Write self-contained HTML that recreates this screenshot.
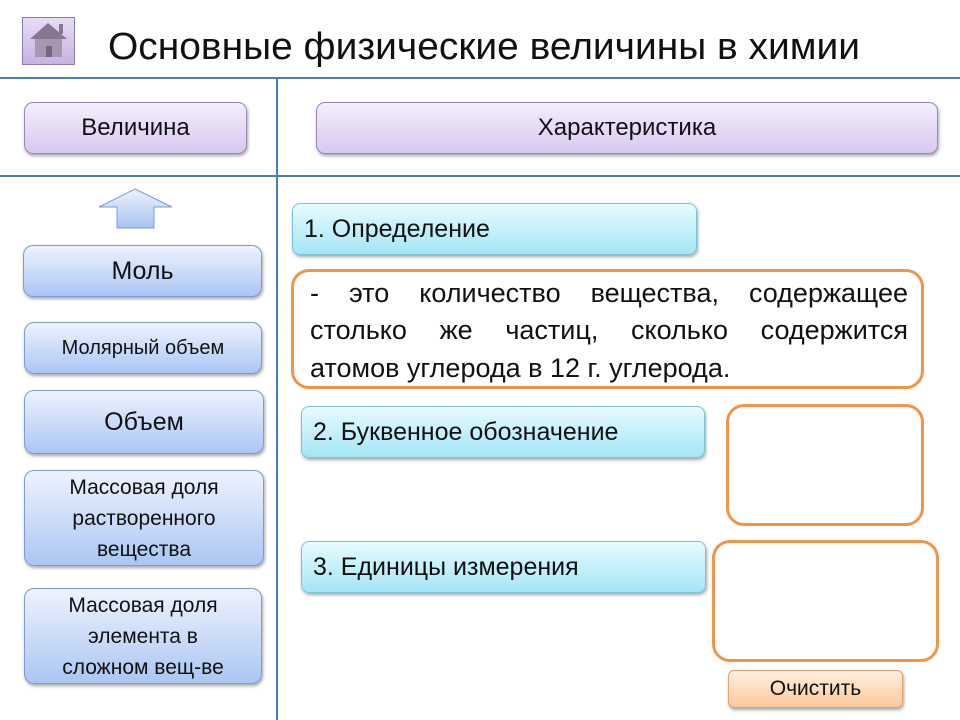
<!DOCTYPE html>
<html><head><meta charset="utf-8"><style>
body{margin:0;width:960px;height:720px;background:#fff;position:relative;overflow:hidden;font-family:"Liberation Sans",sans-serif;color:#111}
.a{position:absolute;box-sizing:border-box}
.line{position:absolute;background:#4a7ebb}
.pur{border:1px solid #9a86b8;border-radius:9px;background:linear-gradient(#f4eefc,#d9c8ef);box-shadow:1px 2px 3px rgba(0,0,0,.35);display:flex;align-items:center;justify-content:center;font-size:24px}
.blu{border:1px solid #7c9bd0;border-radius:10px;background:linear-gradient(#eef3fe,#abc6f3);box-shadow:1px 2px 3px rgba(0,0,0,.35);display:flex;align-items:center;justify-content:center;text-align:center;font-size:21px;line-height:31px}
.cy{border:1px solid #7cc2d6;border-radius:8px;background:linear-gradient(#e8fbff,#a3e6f6);box-shadow:1px 2px 3px rgba(0,0,0,.35);display:flex;align-items:center;font-size:25px;padding-left:11px}
.or{border:3px solid #f0954a;border-radius:18px;background:#fff}
.dl{position:absolute;left:310px;width:598px;font-size:27px;white-space:nowrap;text-align:justify;text-align-last:justify;line-height:30px}
</style></head><body>
<div class="a" style="left:22px;top:17px;width:53px;height:48px;border:1px solid #8c7bb0;background:linear-gradient(#e8dcf4,#c7b2e2)">
<svg width="51" height="46" viewBox="0 0 51 46"><polygon points="25,5 44,21 7,21" fill="#8a7590"/><rect x="36" y="6" width="4" height="10" fill="#8a7590"/><rect x="12" y="21" width="27" height="18" fill="#a895b0"/><rect x="23" y="28" width="6" height="11" fill="#7a6580"/></svg></div>
<svg class="a" style="left:0;top:0" width="960" height="80"><text x="108" y="59" font-size="38" font-family="Liberation Sans, sans-serif" textLength="752" lengthAdjust="spacingAndGlyphs" fill="#111">Основные физические величины в химии</text></svg>
<div class="line" style="left:0;top:77px;width:960px;height:2px"></div>
<div class="line" style="left:0;top:175px;width:960px;height:2px"></div>
<div class="line" style="left:276px;top:78px;width:2px;height:642px"></div>
<div class="a pur" style="left:24px;top:102px;width:223px;height:52px">Величина</div>
<div class="a pur" style="left:316px;top:102px;width:622px;height:52px">Характеристика</div>
<svg class="a" style="left:96px;top:186px" width="80" height="46"><defs><linearGradient id="g" x1="0" y1="0" x2="0" y2="1"><stop offset="0" stop-color="#eef3fe"/><stop offset="1" stop-color="#a6c2f2"/></linearGradient></defs><polygon points="39,3 76,21 58,21 58,42 21,42 21,21 3,21" fill="url(#g)" stroke="#7c9bd0"/></svg>
<div class="a blu" style="left:23px;top:245px;width:239px;height:52px;font-size:25px">Моль</div>
<div class="a blu" style="left:24px;top:322px;width:238px;height:52px;font-size:20px">Молярный объем</div>
<div class="a blu" style="left:24px;top:390px;width:240px;height:64px;font-size:25px">Объем</div>
<div class="a blu" style="left:24px;top:470px;width:240px;height:96px">Массовая доля<br>растворенного<br>вещества</div>
<div class="a blu" style="left:24px;top:588px;width:238px;height:96px">Массовая доля<br>элемента в<br>сложном вещ-ве</div>
<div class="a cy" style="left:292px;top:203px;width:405px;height:52px">1. Определение</div>
<div class="a or" style="left:291px;top:269px;width:633px;height:120px"></div>
<div class="dl" style="top:278px">- это количество вещества, содержащее</div>
<div class="dl" style="top:315px">столько же частиц, сколько содержится</div>
<div class="dl" style="top:353px;text-align:left;text-align-last:left">атомов углерода в 12 г. углерода.</div>
<div class="a cy" style="left:301px;top:406px;width:404px;height:52px">2. Буквенное обозначение</div>
<div class="a or" style="left:726px;top:404px;width:198px;height:122px"></div>
<div class="a cy" style="left:301px;top:541px;width:405px;height:52px">3. Единицы измерения</div>
<div class="a or" style="left:712px;top:540px;width:227px;height:122px"></div>
<div class="a" style="left:728px;top:670px;width:175px;height:38px;border:1px solid #e0a070;border-radius:6px;background:linear-gradient(#fff0e2,#fbc89a);box-shadow:1px 2px 3px rgba(0,0,0,.35);display:flex;align-items:center;justify-content:center;font-size:21px">Очистить</div>
</body></html>
